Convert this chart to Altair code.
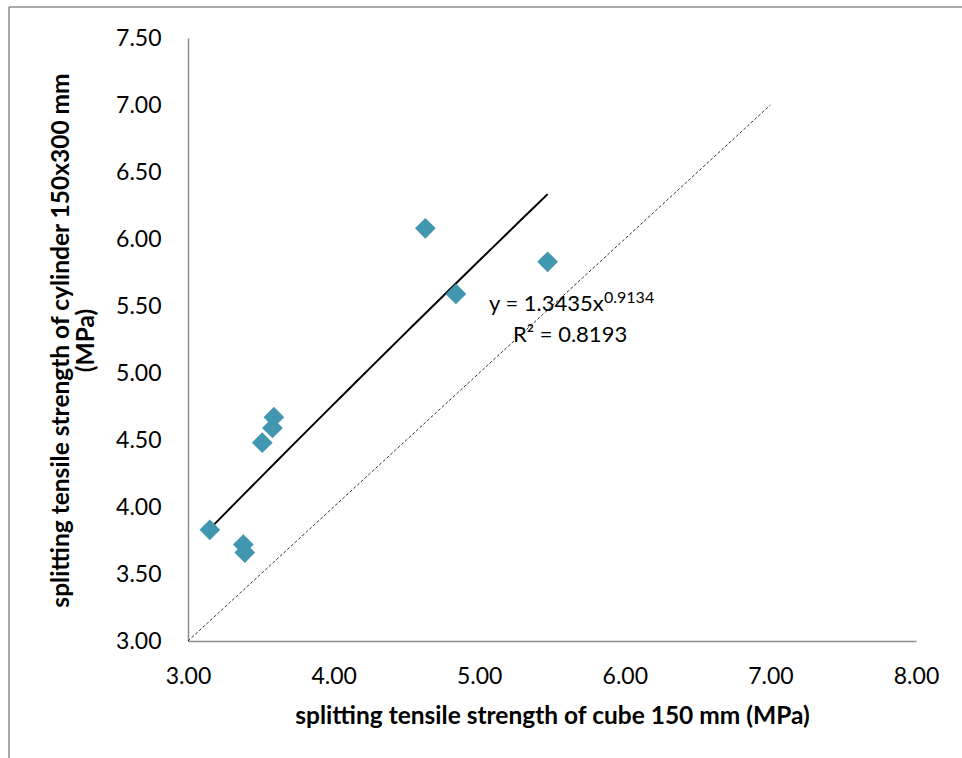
import altair as alt
import pandas as pd

# data
cube = [3.15, 3.38, 3.39, 3.51, 3.58, 3.59, 4.63, 4.84, 5.47]
cylinder = [3.83, 3.72, 3.66, 4.48, 4.59, 4.67, 6.08, 5.59, 5.83]
equality_x = [3.0, 7.0]
equality_y = [3.0, 7.0]
eq_text = "y = 1.3435x"
eq_sup = "0.9134"
r2_text = "R² = 0.8193"

FONT = "Lato"
pts = pd.DataFrame({"cube": cube, "cyl": cylinder})
diag = pd.DataFrame({"cube": equality_x, "cyl": equality_y})

xscale = alt.Scale(domain=[3, 8], nice=False, zero=False)
yscale = alt.Scale(domain=[3, 7.5], nice=False, zero=False)

xaxis = alt.Axis(
    title="splitting tensile strength of cube 150 mm (MPa)",
    values=[3, 4, 5, 6, 7, 8], format=".2f", grid=False, ticks=False,
    labelFlush=False,
    domainColor="#8c8c8c", domainWidth=1.5,
    labelFont=FONT, labelFontSize=23, labelColor="#000", labelPadding=24,
    titleFont=FONT, titleFontSize=24.5, titleFontWeight="bold", titleColor="#000",
    titleX=364, titleY=75, titleBaseline="middle", titleAlign="center",
)
yaxis = alt.Axis(
    title=["splitting tensile strength of cylinder 150x300 mm", "(MPa)"],
    values=[3, 3.5, 4, 4.5, 5, 5.5, 6, 6.5, 7, 7.5], format=".2f",
    grid=False, ticks=False, labelFlush=False,
    domainColor="#8c8c8c", domainWidth=1.5,
    labelFont=FONT, labelFontSize=23, labelColor="#000", labelPadding=27,
    titleFont=FONT, titleFontSize=24.5, titleFontWeight="bold", titleColor="#000",
    titleAngle=-90, titleX=-127, titleY=302, titleAlign="center",
    titleBaseline="middle", titleLineHeight=25,
)

base_x = alt.X("cube:Q", scale=xscale, axis=xaxis)
base_y = alt.Y("cyl:Q", scale=yscale, axis=yaxis)

diag_line = alt.Chart(diag).mark_line(
    color="#000", strokeWidth=0.8, strokeDash=[3, 2]
).encode(x=base_x, y=base_y)

trend = alt.Chart(pts).transform_regression(
    "cube", "cyl", method="pow"
).mark_line(color="#000", strokeWidth=2).encode(
    x=alt.X("cube:Q", scale=xscale), y=alt.Y("cyl:Q", scale=yscale)
)

points = alt.Chart(pts).mark_point(
    shape="diamond", size=430, filled=True, opacity=1, color="#4197AF"
).encode(x=alt.X("cube:Q", scale=xscale), y=alt.Y("cyl:Q", scale=yscale))

ann = pd.DataFrame({"t": [eq_text]})
t1 = alt.Chart(ann).mark_text(
    font=FONT, fontSize=22, align="left", baseline="middle", color="#000"
).encode(text="t:N", x=alt.value(301), y=alt.value(266))
ann2 = pd.DataFrame({"t": [eq_sup]})
t2 = alt.Chart(ann2).mark_text(
    font=FONT, fontSize=16, align="left", baseline="middle", color="#000"
).encode(text="t:N", x=alt.value(416), y=alt.value(260))
ann3 = pd.DataFrame({"t": [r2_text]})
t3 = alt.Chart(ann3).mark_text(
    font=FONT, fontSize=22, align="left", baseline="middle", color="#000"
).encode(text="t:N", x=alt.value(325), y=alt.value(297))

# chart area frame (left and top edges visible in the crop)
frame_left = alt.Chart(pd.DataFrame({"a": [0]})).mark_rule(
    color="#8c8c8c", strokeWidth=1.5
).encode(x=alt.value(-179), y=alt.value(-31), y2=alt.value(725))
frame_top = alt.Chart(pd.DataFrame({"a": [0]})).mark_rule(
    color="#8c8c8c", strokeWidth=1.5
).encode(y=alt.value(-31), x=alt.value(-179), x2=alt.value(780))

chart = alt.layer(
    frame_left, frame_top, diag_line, trend, points, t1, t2, t3
).properties(
    width=728, height=603,
    autosize=alt.AutoSizeParams(type="none"),
    padding={"left": 188, "top": 38, "right": 46, "bottom": 117},
    background="white",
).configure_view(stroke=None)

chart.save("out.html", embed_options={"renderer": "svg", "actions": False})
